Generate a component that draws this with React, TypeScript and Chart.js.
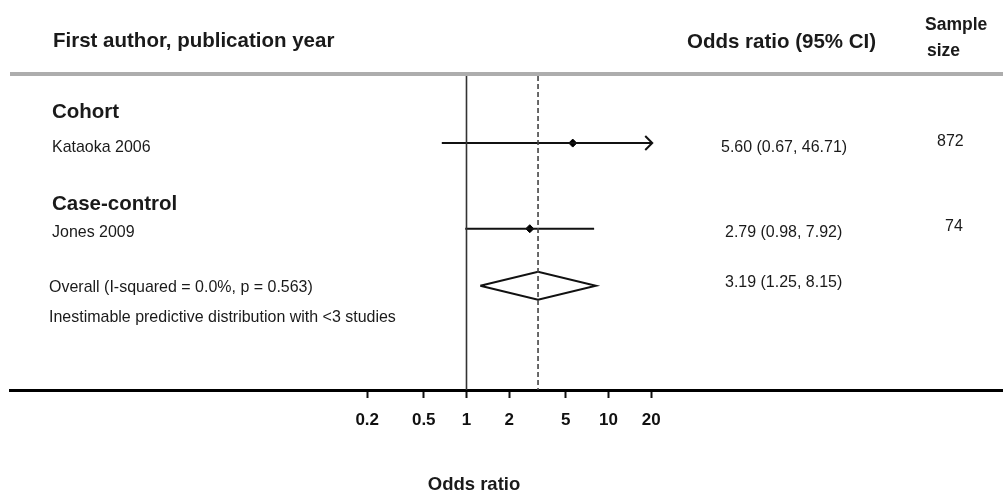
import React, { useEffect, useRef } from "react";
import { Chart, registerables } from "chart.js";

Chart.register(...registerables);

// ---- data ----
const groupLabels = ["Cohort", "Case-control"];
const groupRows = [0.93, 4.13];
const studyLabels = ["Kataoka 2006", "Jones 2009"];
const studyRows = [2, 5];
const orValues = [5.6, 2.79];
const ciLow = [0.67, 0.98];
const ciHigh = [46.71, 7.92];
const sampleSizes = ["872", "74"];
const overallLabel = "Overall (I-squared = 0.0%, p = 0.563)";
const overallRow = 7;
const overallOr = 3.19;
const overallLow = 1.25;
const overallHigh = 8.15;
const noteLabel = "Inestimable predictive distribution with <3 studies";
const noteRow = 8.09;
const tickValues = [0.2, 0.5, 1, 2, 5, 10, 20];
const displayMax = 20;
const nullValue = 1;

const X_MIN = 0.00061;
const X_MAX = 6000;
const Y_MIN = -0.35;
const Y_MAX = 10.65;

const fmt = (v: number) => v.toFixed(2);

const TEXT = "#1a1a1a";
const FAMILY = "'Liberation Sans', Arial, sans-serif";

function drawText(
  ctx: CanvasRenderingContext2D,
  text: string,
  x: number,
  y: number,
  font: string,
  sx = 1,
  align: CanvasTextAlign = "left"
) {
  ctx.save();
  ctx.font = font;
  ctx.fillStyle = TEXT;
  ctx.textBaseline = "middle";
  ctx.textAlign = align;
  ctx.translate(x, y);
  ctx.scale(sx, 1);
  ctx.fillText(text, 0, 0);
  ctx.restore();
}

const forestPlugin = {
  id: "forestText",
  afterDraw(chart: any) {
    const ctx = chart.ctx as CanvasRenderingContext2D;
    const xs = chart.scales.x;
    const ys = chart.scales.y;
    const area = chart.chartArea;
    const bold20 = `bold 20.5px ${FAMILY}`;
    const bold17 = `bold 17.5px ${FAMILY}`;
    const reg = `17px ${FAMILY}`;
    const sx = 0.94;

    // header rule
    ctx.save();
    ctx.strokeStyle = "#adadad";
    ctx.lineWidth = 4;
    ctx.beginPath();
    ctx.moveTo(area.left, 74);
    ctx.lineTo(area.right, 74);
    ctx.stroke();
    ctx.restore();

    // headers
    drawText(ctx, "First author, publication year", 53, 41, bold20);
    drawText(ctx, "Odds ratio (95% CI)", 687, 42, bold20);
    drawText(ctx, "Sample", 925, 25, bold17);
    drawText(ctx, "size", 927, 51, bold17);

    // group labels
    groupLabels.forEach((g, i) => {
      drawText(ctx, g, 52, ys.getPixelForValue(groupRows[i]), bold20);
    });

    // study rows
    studyLabels.forEach((s, i) => {
      const yp = ys.getPixelForValue(studyRows[i]);
      drawText(ctx, s, 52, yp + 4, reg, sx);
      drawText(
        ctx,
        `${fmt(orValues[i])} (${fmt(ciLow[i])}, ${fmt(ciHigh[i])})`,
        i === 0 ? 721 : 725,
        yp + 4,
        reg,
        sx
      );
      drawText(ctx, sampleSizes[i], 937 + (i === 0 ? 0 : 8), yp - 2, reg, sx);

      // arrow when CI exceeds display range
      if (ciHigh[i] > displayMax) {
        const xp = xs.getPixelForValue(displayMax);
        ctx.save();
        ctx.strokeStyle = "#111";
        ctx.lineWidth = 2;
        ctx.beginPath();
        ctx.moveTo(xp - 6, yp - 7);
        ctx.lineTo(xp + 1, yp);
        ctx.lineTo(xp - 6, yp + 7);
        ctx.stroke();
        ctx.restore();
      }
    });

    // overall
    const yo = ys.getPixelForValue(overallRow);
    drawText(ctx, overallLabel, 49, yo + 2, reg, sx);
    drawText(
      ctx,
      `${fmt(overallOr)} (${fmt(overallLow)}, ${fmt(overallHigh)})`,
      725,
      yo - 3,
      reg,
      sx
    );
    drawText(ctx, noteLabel, 49, ys.getPixelForValue(noteRow), reg, sx);

    // axis title
    drawText(ctx, "Odds ratio", 474, 485, `bold 18.5px ${FAMILY}`, 1, "center");
  },
};

export default function App() {
  const ref = useRef<HTMLCanvasElement | null>(null);

  useEffect(() => {
    if (!ref.current) return;

    const ciDatasets = studyLabels.map((s, i) => ({
      label: s + " CI",
      type: "line" as const,
      data: [
        { x: ciLow[i], y: studyRows[i] },
        { x: Math.min(ciHigh[i], displayMax), y: studyRows[i] },
      ],
      borderColor: "#111",
      borderWidth: 2,
      pointRadius: 0,
      showLine: true,
      fill: false,
    }));

    const chart = new Chart(ref.current, {
      type: "scatter",
      data: {
        datasets: [
          {
            label: "null",
            type: "line",
            data: [
              { x: nullValue, y: Y_MIN },
              { x: nullValue, y: Y_MAX },
            ],
            borderColor: "#333",
            borderWidth: 1.6,
            pointRadius: 0,
            showLine: true,
          } as any,
          {
            label: "overall line",
            type: "line",
            data: [
              { x: overallOr, y: Y_MIN },
              { x: overallOr, y: Y_MAX },
            ],
            borderColor: "#444",
            borderWidth: 1.6,
            borderDash: [5, 3],
            pointRadius: 0,
            showLine: true,
          } as any,
          ...ciDatasets,
          {
            label: "estimates",
            data: orValues.map((v, i) => ({ x: v, y: studyRows[i] })),
            pointStyle: "rectRot",
            pointRadius: 4,
            backgroundColor: "#000",
            borderColor: "#000",
            borderWidth: 1,
          },
          {
            label: "overall diamond",
            type: "line",
            data: [
              { x: overallLow, y: overallRow },
              { x: overallOr, y: overallRow - 0.49 },
              { x: overallHigh, y: overallRow },
              { x: overallOr, y: overallRow + 0.49 },
              { x: overallLow, y: overallRow },
            ],
            borderColor: "#111",
            borderWidth: 2,
            pointRadius: 0,
            showLine: true,
            fill: false,
            tension: 0,
          } as any,
        ],
      },
      options: {
        animation: false,
        responsive: false,
        devicePixelRatio: 1,
        layout: { autoPadding: false, padding: { left: 10, right: 0, top: 76, bottom: 0 } },
        plugins: {
          legend: { display: false },
          tooltip: { enabled: false },
        },
        scales: {
          x: {
            type: "logarithmic",
            min: X_MIN,
            max: X_MAX,
            bounds: "data",
            afterBuildTicks: (scale: any) => {
              scale.ticks = tickValues.map((v) => ({ value: v }));
            },
            afterFit: (scale: any) => {
              scale.height = 106;
            },
            ticks: {
              autoSkip: false,
              maxRotation: 0,
              padding: 12,
              color: "#111",
              font: { family: FAMILY, size: 17, weight: "bold" },
              callback: (v: any) => String(v),
            },
            grid: {
              drawOnChartArea: false,
              drawTicks: true,
              tickLength: 8,
              tickColor: "#111",
              tickWidth: 2,
            },
            border: { display: true, color: "#000", width: 3 },
          },
          y: {
            type: "linear",
            display: false,
            min: Y_MIN,
            max: Y_MAX,
            reverse: true,
          },
        },
      } as any,
      plugins: [forestPlugin],
    });

    return () => chart.destroy();
  }, []);

  return (
    <div style={{ position: "absolute", left: 0, top: 0, width: 1003, height: 496, background: "#fff" }}>
      <canvas ref={ref} width={1003} height={496} />
    </div>
  );
}
